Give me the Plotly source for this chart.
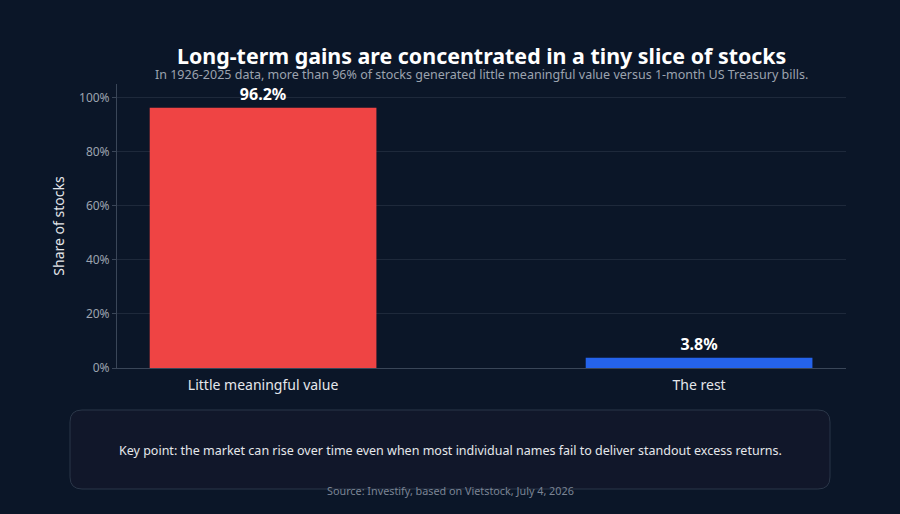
import plotly.graph_objects as go

categories = ["Little meaningful value", "The rest"]
shares = [96.2, 3.8]
bar_colors = ["#ef4444", "#2563eb"]
y_ticks = [0, 20, 40, 60, 80, 100]
y_tick_labels = ["0%", "20%", "40%", "60%", "80%", "100%"]

BG = "#0b1628"
FONT = "Noto Sans"

fig = go.Figure()
fig.add_trace(go.Bar(
    x=categories, y=shares,
    width=0.52,
    marker=dict(color=bar_colors, line=dict(width=0)),
    text=[f"{v:.1f}%" for v in shares],
    textposition="outside",
    textfont=dict(family=FONT, size=16, color="#ffffff", weight="bold"),
    cliponaxis=False,
    hoverinfo="skip",
))

W, H = 900, 514
L, R, T, B = 117, 54, 84, 146
pw, ph = W - L - R, H - T - B

def px2paper(xp, yp):
    return (xp - L) / pw, (H - B - yp) / ph

# rounded box
x0, y0, x1, y1, r = 70, 410, 830, 489, 12
def P(xp, yp):
    a, b = px2paper(xp, yp)
    return f"{a:.5f},{b:.5f}"
path = (f"M {P(x0+r,y0)} L {P(x1-r,y0)} Q {P(x1,y0)} {P(x1,y0+r)} "
        f"L {P(x1,y1-r)} Q {P(x1,y1)} {P(x1-r,y1)} L {P(x0+r,y1)} "
        f"Q {P(x0,y1)} {P(x0,y1-r)} L {P(x0,y0+r)} Q {P(x0,y0)} {P(x0+r,y0)} Z")

fig.add_shape(type="path", path=path, xref="paper", yref="paper",
              fillcolor="#11172a", line=dict(color="#2a3648", width=1), layer="below")

def note(xp, yp, text, size, color):
    a, b = px2paper(xp, yp)
    fig.add_annotation(x=a, y=b, xref="paper", yref="paper", showarrow=False,
                       xanchor="center", yanchor="middle", text=text,
                       font=dict(family=FONT, size=size, color=color))

note(450, 450, "Key point: the market can rise over time even when most individual names fail to deliver standout excess returns.", 12.5, "#e5e7eb")
note(450, 490, "Source: Investify, based on Vietstock, July 4, 2026", 10.8, "#7b8494")
note(481, 56, "<b>Long-term gains are concentrated in a tiny slice of stocks</b>", 21.4, "#ffffff")
note(481, 74, "In 1926-2025 data, more than 96% of stocks generated little meaningful value versus 1-month US Treasury bills.", 12.5, "#9ca3af")

fig.update_layout(
    width=W, height=H,
    margin=dict(l=L, r=R, t=T, b=B),
    paper_bgcolor=BG, plot_bgcolor=BG,
    font=dict(family=FONT, color="#e5e7eb"),
    showlegend=False,
)
fig.update_xaxes(
    range=[-0.335, 1.337],
    showgrid=False, showline=True, linecolor="#3a4658", linewidth=1,
    tickfont=dict(family=FONT, size=14, color="#e5e7eb"),
    ticks="", ticklabelstandoff=4, fixedrange=True,
)
fig.update_yaxes(
    range=[0, 105], tickvals=y_ticks, ticktext=y_tick_labels,
    showgrid=True, gridcolor="#1e293b", gridwidth=1,
    showline=True, linecolor="#3a4658", linewidth=1,
    ticks="outside", tickcolor="#3a4658", ticklen=4,
    tickfont=dict(family=FONT, size=12, color="#9ca3af"),
    title=dict(text="Share of stocks", font=dict(family=FONT, size=14, color="#e5e7eb"), standoff=11),
    zeroline=False, fixedrange=True,
)

fig.write_html("out.html")
